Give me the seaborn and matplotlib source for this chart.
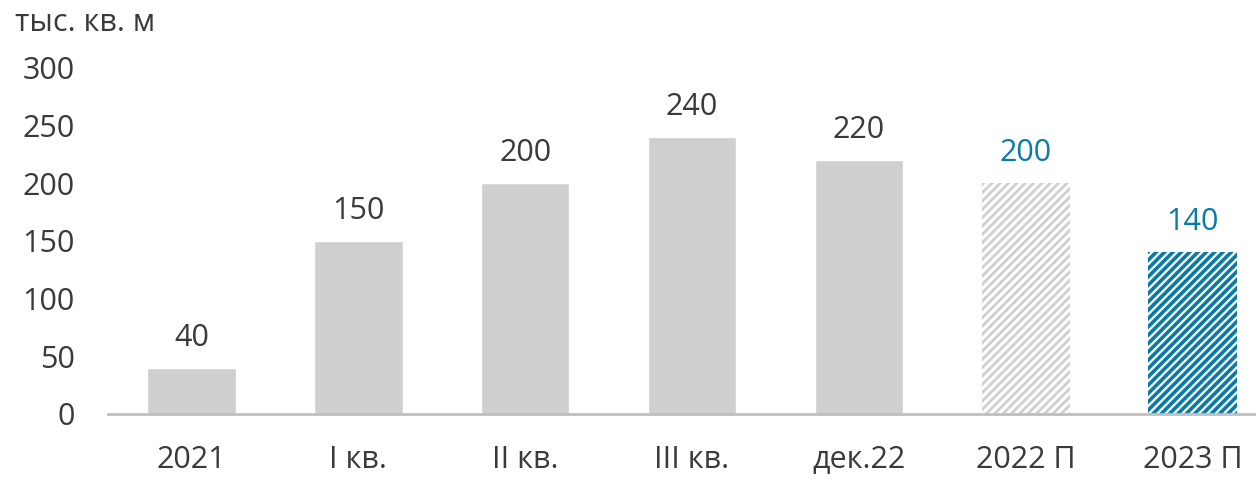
import pandas as pd
import seaborn as sns
import matplotlib.pyplot as plt

categories = ['2021', 'I кв.', 'II кв.', 'III кв.', 'дек.22', '2022 П', '2023 П']
values = [40, 150, 200, 240, 220, 200, 140]

grey = '#d0cfd0'
blue = '#0a7aa8'
text_col = '#3a3a3a'

sns.set_theme(style='white')
plt.rcParams['font.family'] = ['Open Sans', 'DejaVu Sans']

df = pd.DataFrame({'cat': categories, 'val': values})

fig = plt.figure(figsize=(12.56, 4.79), dpi=100)
ax = fig.add_axes([0.086, 0.1357, 0.914, 0.7226])
sns.barplot(data=df, x='cat', y='val', color=grey, width=0.53, saturation=1, ax=ax)

# прогнозные столбцы - штриховка
for i, p in enumerate(ax.patches):
    if i == 5:
        p.set_facecolor('white')
        p.set_edgecolor(grey)
        p.set_hatch('////')
        p.set_linewidth(0)
        if hasattr(p, 'set_hatch_linewidth'):
            p.set_hatch_linewidth(2.0)
    elif i == 6:
        p.set_facecolor('white')
        p.set_edgecolor(blue)
        p.set_hatch('////')
        p.set_linewidth(0)
        if hasattr(p, 'set_hatch_linewidth'):
            p.set_hatch_linewidth(2.6)

labels = ax.bar_label(ax.containers[0], labels=[str(v) for v in values], padding=11, fontsize=22, color=text_col)
for i, t in enumerate(labels):
    if i >= 5:
        t.set_color(blue)

ax.set_ylim(0, 300)
ax.set_xlim(-0.5, 6.38)
ax.set_yticks([0, 50, 100, 150, 200, 250, 300])
ax.set(xlabel='', ylabel='')
ax.tick_params(axis='y', length=0, pad=24, labelsize=22, labelcolor=text_col)
ax.tick_params(axis='x', length=0, pad=22, labelsize=22, labelcolor=text_col)
sns.despine(ax=ax, left=True)
ax.spines['bottom'].set_color('#bfbfbf')
ax.spines['bottom'].set_linewidth(2)

fig.text(0.012, 0.952, 'тыс. кв. м', fontsize=22, color=text_col, va='center', ha='left')

fig.savefig('out.png', dpi=100)
